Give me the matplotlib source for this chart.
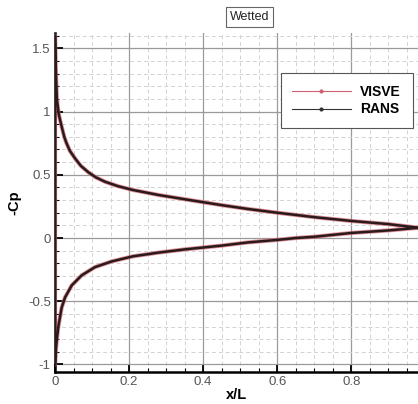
import numpy as np
import matplotlib
matplotlib.use("Agg")
import matplotlib.pyplot as plt
from matplotlib.lines import Line2D
from matplotlib.ticker import MultipleLocator

plt.rcParams["font.family"] = ["Liberation Sans", "DejaVu Sans"]

# -Cp along the body
x_upper = [0.0, 0.002, 0.005, 0.01, 0.018, 0.025, 0.031, 0.04, 0.054, 0.07, 0.09, 0.11,
           0.135, 0.17, 0.21, 0.28, 0.364, 0.45, 0.52, 0.6, 0.7, 0.8, 0.9, 0.97, 0.98]
cp_upper = [1.6, 1.35, 1.1, 0.98, 0.88, 0.8, 0.75, 0.69, 0.63, 0.57, 0.52, 0.48,
            0.445, 0.41, 0.38, 0.34, 0.30, 0.26, 0.23, 0.20, 0.165, 0.135, 0.11, 0.085, 0.08]
x_lower = [0.0, 0.002, 0.005, 0.009, 0.018, 0.027, 0.045, 0.072, 0.108, 0.153, 0.21,
           0.28, 0.35, 0.45, 0.52, 0.6, 0.65, 0.7, 0.8, 0.9, 0.97, 0.98]
cp_lower = [-1.0, -0.9, -0.8, -0.70, -0.55, -0.47, -0.375, -0.295, -0.23, -0.185, -0.145,
            -0.115, -0.09, -0.06, -0.035, -0.015, 0.0, 0.01, 0.04, 0.06, 0.078, 0.08]

fig = plt.figure(figsize=(4.18, 4.04), dpi=100)
ax = fig.add_axes([0.1316, 0.079, 0.8684, 0.839])

x_all = x_upper[::-1] + x_lower
cp_all = cp_upper[::-1] + cp_lower
ax.plot(x_all, cp_all, color="#d06070", lw=3.0, alpha=0.7, zorder=3)   # VISVE
ax.plot(x_all, cp_all, color="#2a1a1a", lw=1.8, zorder=4)              # RANS

ax.set_xlim(0, 0.98)
ax.set_ylim(-1.06, 1.62)
ax.xaxis.set_major_locator(MultipleLocator(0.2))
ax.xaxis.set_minor_locator(MultipleLocator(0.05))
ax.yaxis.set_major_locator(MultipleLocator(0.5))
ax.yaxis.set_minor_locator(MultipleLocator(0.1))
ax.grid(which="major", color="#9a9a9a", lw=0.9, ls="-")
ax.grid(which="minor", color="#d2d2d2", lw=0.7, ls=(0, (4, 3)))
ax.set_axisbelow(True)
ax.tick_params(which="major", direction="in", length=6, width=1.3, labelsize=9.5,
               labelcolor="#555555", pad=3)
ax.tick_params(which="minor", direction="in", length=3, width=0.8)
ax.xaxis.set_major_formatter(plt.FuncFormatter(lambda v, p: f"{v:g}"))
ax.yaxis.set_major_formatter(plt.FuncFormatter(lambda v, p: f"{v:g}"))
for s in ["top", "right"]:
    ax.spines[s].set_visible(False)
for s in ["left", "bottom"]:
    ax.spines[s].set_linewidth(1.8)

ax.set_xlabel("x/L", fontsize=10.5, fontweight="bold", labelpad=0)
ax.set_ylabel("-Cp", fontsize=10.5, fontweight="bold", labelpad=5)

handles = [Line2D([], [], color="#d06070", lw=0.8, marker="o", ms=2),
           Line2D([], [], color="#333333", lw=0.8, marker="o", ms=2)]
leg = ax.legend(handles, ["VISVE", "RANS"], loc="upper right",
                bbox_to_anchor=(0.986, 0.882), borderaxespad=0, fancybox=False,
                edgecolor="#555555", framealpha=1, prop={"weight": "bold", "size": 10},
                markerfirst=True, handlelength=4.2, labelspacing=0.25, borderpad=0.85,
                handletextpad=0.7)
leg.get_frame().set_linewidth(0.8)

fig.text(0.598, 0.958, "Wetted", ha="center", va="center", fontsize=9, color="#222222",
         bbox=dict(boxstyle="square,pad=0.3", fc="white", ec="#666666", lw=0.8))

fig.savefig("out.png", dpi=100)
